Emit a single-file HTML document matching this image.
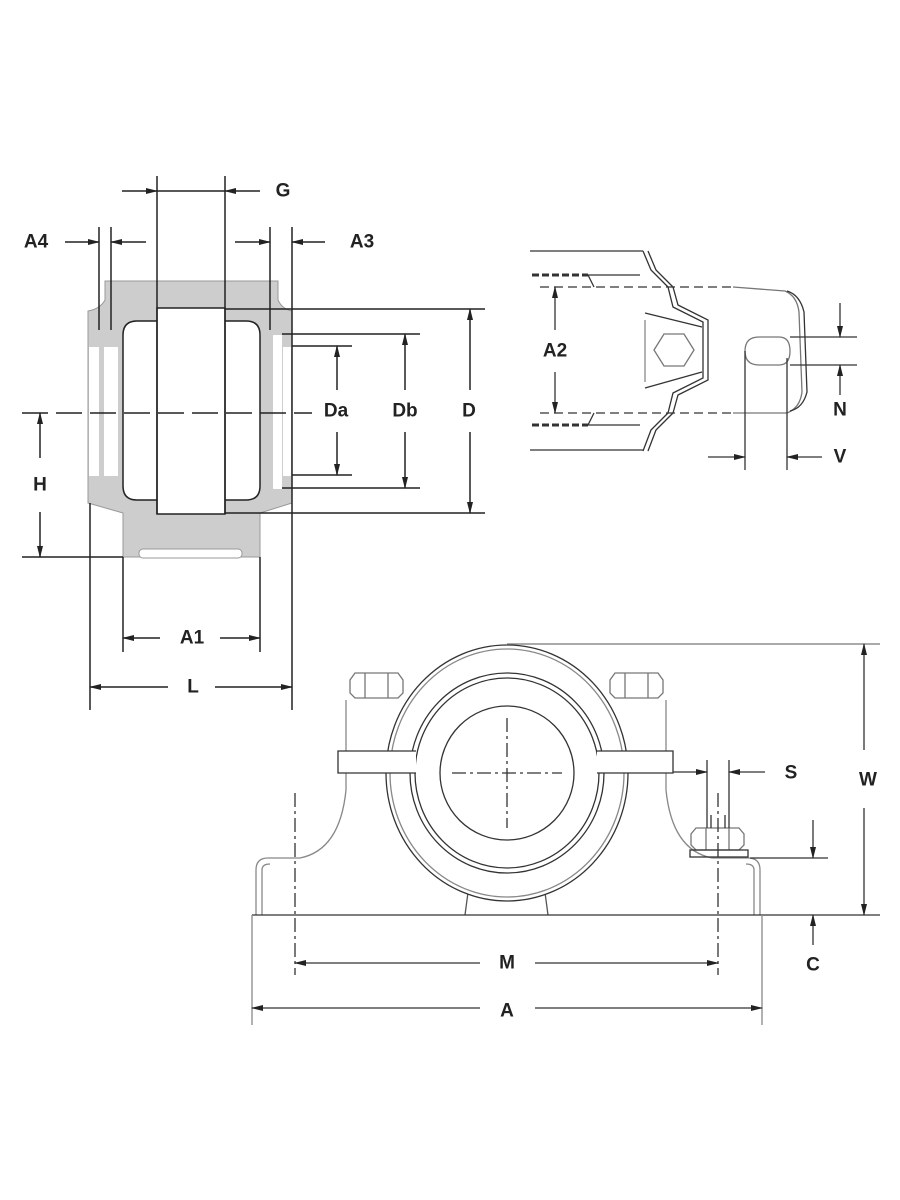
<!DOCTYPE html>
<html><head><meta charset="utf-8"><style>
html,body{margin:0;padding:0;background:#fff;}
svg{display:block;}
text{font-family:"Liberation Sans",Arial,sans-serif;font-weight:bold;font-size:19px;fill:#222;text-anchor:middle;dominant-baseline:central;}
</style></head><body>
<svg width="900" height="1200" viewBox="0 0 900 1200" xmlns="http://www.w3.org/2000/svg">
<defs>
<marker id="ar" markerWidth="12" markerHeight="8" refX="11" refY="4" orient="auto" markerUnits="userSpaceOnUse">
<path d="M0,1 L12,4 L0,7 Z" fill="#222"/></marker>
</defs>
<g stroke="#222" stroke-width="1.5" fill="none">
<!-- LEFT SECTION VIEW -->
<path d="M105,281 L278,281 L278,300 Q282,309 292,311 L292,503 L260,513 L260,557 L123,557 L123,513 L88,503 L88,311 Q100,309 105,300 Z" fill="#cdcdcd" stroke="#999" stroke-width="1"/>
<!-- seal strips -->
<rect x="89" y="347" width="10" height="129" fill="#fff" stroke="none"/>
<rect x="102" y="335" width="17" height="154" fill="#cdcdcd" stroke="none"/>
<rect x="104" y="347" width="14" height="129" fill="#fff" stroke="none"/>
<rect x="271" y="335" width="20" height="154" fill="#cdcdcd" stroke="none"/>
<rect x="273" y="335" width="9" height="154" fill="#fff" stroke="none"/>
<rect x="283" y="347" width="8" height="129" fill="#fff" stroke="none"/>
<!-- rollers -->
<path d="M157,321 L137,321 Q123,321 123,335 L123,486 Q123,500 137,500 L157,500" fill="#fff"/>
<path d="M225,321 L246,321 Q260,321 260,335 L260,486 Q260,500 246,500 L225,500" fill="#fff"/>
<rect x="157" y="308" width="68" height="206" fill="#fff"/>
<rect x="139" y="549" width="103" height="9" rx="4" fill="#fff" stroke="#999" stroke-width="1"/>
<!-- centerline -->
<line x1="22" y1="413" x2="312" y2="413" stroke-dasharray="26,8"/>
<!-- G -->
<line x1="157" y1="176" x2="157" y2="514"/>
<line x1="225" y1="176" x2="225" y2="514"/>
<line x1="122" y1="191" x2="157" y2="191" marker-end="url(#ar)"/>
<line x1="260" y1="191" x2="225" y2="191" marker-end="url(#ar)"/>
<line x1="157" y1="191" x2="225" y2="191"/>
<!-- A4 -->
<line x1="99" y1="227" x2="99" y2="330"/>
<line x1="111" y1="227" x2="111" y2="330"/>
<line x1="65" y1="242" x2="99" y2="242" marker-end="url(#ar)"/>
<line x1="146" y1="242" x2="111" y2="242" marker-end="url(#ar)"/>
<!-- A3 -->
<line x1="270" y1="227" x2="270" y2="330"/>
<line x1="292" y1="227" x2="292" y2="710"/>
<line x1="235" y1="242" x2="270" y2="242" marker-end="url(#ar)"/>
<line x1="325" y1="242" x2="292" y2="242" marker-end="url(#ar)"/>
<!-- D Db Da -->
<line x1="225" y1="309" x2="485" y2="309"/>
<line x1="225" y1="513" x2="485" y2="513"/>
<line x1="470" y1="390" x2="470" y2="309" marker-end="url(#ar)"/>
<line x1="470" y1="432" x2="470" y2="513" marker-end="url(#ar)"/>
<line x1="282" y1="334" x2="420" y2="334"/>
<line x1="282" y1="488" x2="420" y2="488"/>
<line x1="405" y1="390" x2="405" y2="334" marker-end="url(#ar)"/>
<line x1="405" y1="432" x2="405" y2="488" marker-end="url(#ar)"/>
<line x1="292" y1="346" x2="352" y2="346"/>
<line x1="292" y1="475" x2="352" y2="475"/>
<line x1="337" y1="390" x2="337" y2="346" marker-end="url(#ar)"/>
<line x1="337" y1="432" x2="337" y2="475" marker-end="url(#ar)"/>
<!-- H -->
<line x1="22" y1="557" x2="123" y2="557"/>
<line x1="40" y1="458" x2="40" y2="413" marker-end="url(#ar)"/>
<line x1="40" y1="512" x2="40" y2="557" marker-end="url(#ar)"/>
<!-- A1 L -->
<line x1="123" y1="557" x2="123" y2="652"/>
<line x1="260" y1="557" x2="260" y2="652"/>
<line x1="90" y1="503" x2="90" y2="710"/>
<line x1="160" y1="638" x2="123" y2="638" marker-end="url(#ar)"/>
<line x1="220" y1="638" x2="260" y2="638" marker-end="url(#ar)"/>
<line x1="168" y1="687" x2="90" y2="687" marker-end="url(#ar)"/>
<line x1="215" y1="687" x2="292" y2="687" marker-end="url(#ar)"/>
</g>
<text x="283" y="191">G</text>
<text x="36" y="242">A4</text>
<text x="362" y="242">A3</text>
<text x="336" y="411">Da</text>
<text x="405" y="411">Db</text>
<text x="469" y="411">D</text>
<text x="40" y="485">H</text>
<text x="192" y="638">A1</text>
<text x="193" y="687">L</text>

<!-- TOP RIGHT VIEW -->
<g stroke="#333" stroke-width="1.3" fill="none">
<line x1="530" y1="251" x2="643" y2="251"/>
<line x1="530" y1="450" x2="643" y2="450"/>
<line x1="532" y1="275" x2="588" y2="275" stroke-width="3" stroke-dasharray="7,3"/>
<line x1="588" y1="275" x2="640" y2="275"/>
<line x1="532" y1="425" x2="588" y2="425" stroke-width="3" stroke-dasharray="7,3"/>
<line x1="588" y1="425" x2="640" y2="425"/>
<path d="M588,275 L594,287 M588,425 L594,413"/>
<line x1="540" y1="287" x2="733" y2="287" stroke-dasharray="9,5"/>
<line x1="540" y1="413" x2="733" y2="413" stroke-dasharray="9,5"/>
<path d="M733,287 L785,291 Q797,296 799,312 L802,392 Q800,408 787,413 L733,413" stroke="#777"/>
<path d="M787,291 Q800,295 804,312 L807,392 Q803,408 790,411"/>
<path d="M643,251 L651,270 L668,287 L673,307 L703,322 L703,378 L673,393 L668,413 L651,430 L643,451"/>
<path d="M648,251 L656,270 L673,287 L678,305 L708,320 L708,380 L678,395 L673,413 L656,430 L648,451"/>
<line x1="645" y1="313" x2="702" y2="327"/>
<line x1="645" y1="388" x2="702" y2="372"/>
<line x1="645" y1="320" x2="645" y2="382" stroke="#888"/>
<polygon points="654,350 664,334 684,334 694,350 684,366 664,366" stroke="#777"/>
<path d="M759,337 L779,337 Q790,337 790,351 Q790,365 779,365 L759,365 Q745,365 745,351 Q745,337 759,337 Z" stroke="#777"/>
<line x1="745" y1="351" x2="745" y2="470"/>
<line x1="787" y1="358" x2="787" y2="470"/>
<line x1="555" y1="330" x2="555" y2="287" marker-end="url(#ar)"/>
<line x1="555" y1="372" x2="555" y2="413" marker-end="url(#ar)"/>
<line x1="790" y1="337" x2="857" y2="337"/>
<line x1="790" y1="365" x2="857" y2="365"/>
<line x1="840" y1="303" x2="840" y2="337" marker-end="url(#ar)"/>
<line x1="840" y1="395" x2="840" y2="365" marker-end="url(#ar)"/>
<line x1="708" y1="457" x2="745" y2="457" marker-end="url(#ar)"/>
<line x1="822" y1="457" x2="787" y2="457" marker-end="url(#ar)"/>
</g>
<text x="555" y="351">A2</text>
<text x="840" y="410">N</text>
<text x="840" y="457">V</text>

<!-- BOTTOM FRONT VIEW -->
<g stroke="#333" stroke-width="1.3" fill="none">
<!-- pedestals -->
<path d="M346,700 L346,790 Q340,850 300,858 L268,858 Q256,858 256,870 L256,915" stroke="#888"/>
<path d="M262,915 L262,870 Q262,864 270,864" stroke="#888"/>
<path d="M666,700 L666,790 Q672,850 712,858 L748,858 Q760,858 760,870 L760,915" stroke="#888"/>
<path d="M754,915 L754,870 Q754,864 746,864" stroke="#888"/>
<!-- nuts -->
<g stroke="#777">
<path d="M355,673 L398,673 L403,680 L403,693 L398,698 L355,698 L350,693 L350,680 Z"/>
<line x1="365" y1="673" x2="365" y2="698"/><line x1="388" y1="673" x2="388" y2="698"/>
<path d="M615,673 L658,673 L663,680 L663,693 L658,698 L615,698 L610,693 L610,680 Z"/>
<line x1="625" y1="673" x2="625" y2="698"/><line x1="648" y1="673" x2="648" y2="698"/>
</g>
<!-- housing ring -->
<path d="M469,885 L465,915 M544,885 L548,915" stroke="#555"/>
<ellipse cx="507" cy="773" rx="121" ry="128" fill="#fff"/>
<ellipse cx="507" cy="773" rx="117" ry="124" stroke="#888"/>
<ellipse cx="507" cy="773" rx="97" ry="100"/>
<ellipse cx="507" cy="773" rx="92" ry="95"/>
<circle cx="507" cy="773" r="67"/>
<!-- flange bar -->
<path d="M416,751 L338,751 L338,773 L416,773" fill="#fff"/>
<path d="M597,751 L673,751 L673,773 L597,773" fill="#fff"/>
<line x1="507" y1="718" x2="507" y2="828" stroke-dasharray="14,4,3,4"/>
<line x1="452" y1="773" x2="562" y2="773" stroke-dasharray="14,4,3,4"/>
<!-- base -->
<line x1="252" y1="915" x2="880" y2="915"/>
<line x1="252" y1="915" x2="252" y2="1025" stroke="#888"/>
<line x1="762" y1="915" x2="762" y2="1025" stroke="#888"/>
<!-- right bolt -->
<path d="M696,828 L739,828 L744,834 L744,845 L739,850 L696,850 L691,845 L691,834 Z" stroke="#777"/>
<line x1="706" y1="828" x2="706" y2="850" stroke="#777"/><line x1="729" y1="828" x2="729" y2="850" stroke="#777"/>
<rect x="690" y="850" width="58" height="7"/>
<line x1="707" y1="760" x2="707" y2="828"/>
<line x1="729" y1="760" x2="729" y2="828"/>
<line x1="711" y1="815" x2="711" y2="828"/><line x1="725" y1="815" x2="725" y2="828"/>
<line x1="673" y1="772" x2="707" y2="772" marker-end="url(#ar)"/>
<line x1="765" y1="772" x2="729" y2="772" marker-end="url(#ar)"/>
<!-- M -->
<line x1="295" y1="793" x2="295" y2="975" stroke-dasharray="14,4,3,4"/>
<line x1="718" y1="793" x2="718" y2="975" stroke-dasharray="14,4,3,4"/>
<line x1="480" y1="963" x2="295" y2="963" marker-end="url(#ar)"/>
<line x1="535" y1="963" x2="718" y2="963" marker-end="url(#ar)"/>
<!-- A -->
<line x1="480" y1="1008" x2="252" y2="1008" marker-end="url(#ar)"/>
<line x1="535" y1="1008" x2="762" y2="1008" marker-end="url(#ar)"/>
<!-- W -->
<line x1="507" y1="644" x2="880" y2="644" stroke="#777"/>
<line x1="864" y1="750" x2="864" y2="644" marker-end="url(#ar)"/>
<line x1="864" y1="808" x2="864" y2="915" marker-end="url(#ar)"/>
<!-- C -->
<line x1="750" y1="858" x2="828" y2="858"/>
<line x1="813" y1="820" x2="813" y2="858" marker-end="url(#ar)"/>
<line x1="813" y1="945" x2="813" y2="915" marker-end="url(#ar)"/>
</g>
<text x="791" y="773">S</text>
<text x="868" y="780">W</text>
<text x="507" y="963">M</text>
<text x="507" y="1011">A</text>
<text x="813" y="965">C</text>
</svg>
</body></html>
